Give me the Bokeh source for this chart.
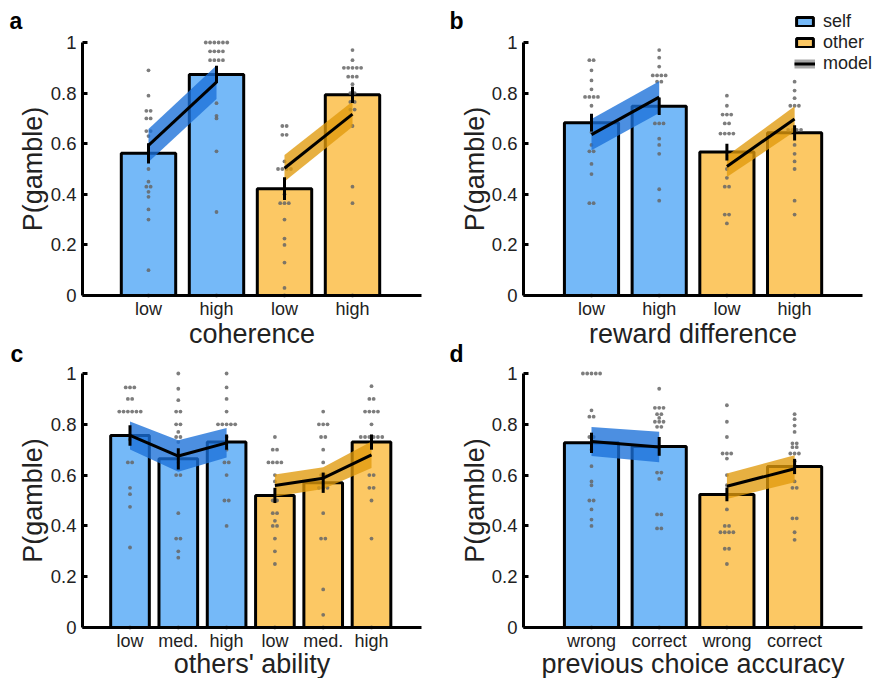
from bokeh.plotting import figure
from bokeh.models import Range1d, FixedTicker, Label, Legend, LegendItem, LinearAxis
from bokeh.embed import file_html
from bokeh.resources import INLINE

FONT = "Liberation Sans"
TEXT = "#222222"
SELF_FILL = "#75b9f8"
OTHER_FILL = "#fcc864"
SELF_BAND = "#1a6fd8"
OTHER_BAND = "#e09a0c"
DOT = "#666666"

# ---------------- data ----------------
y_ticks = [0, 0.2, 0.4, 0.6, 0.8, 1]
y_tick_labels = ["0", "0.2", "0.4", "0.6", "0.8", "1"]
y_label = "P(gamble)"
legend_labels = ["self", "other", "model"]
panel_letters = ["a", "b", "c", "d"]

# panel a : coherence
a_xlabel = "coherence"
a_ticks = ["low", "high", "low", "high"]
a_self_mean = [0.562, 0.874]
a_self_err = [0.040, 0.034]
a_self_model = [0.593, 0.843]
a_self_ci = [0.065, 0.066]
a_other_mean = [0.422, 0.793]
a_other_err = [0.045, 0.032]
a_other_model = [0.503, 0.717]
a_other_ci = [0.052, 0.050]
a_self_pts = [
    [0.89, 0.79, 0.73, 0.73, 0.70, 0.70, 0.65, 0.65, 0.63, 0.50, 0.45, 0.43, 0.43, 0.41, 0.39, 0.34, 0.30, 0.10, 0.0],
    [1.0, 1.0, 1.0, 1.0, 1.0, 1.0, 0.965, 0.965, 0.965, 0.965, 0.93, 0.93, 0.93, 0.93, 0.76, 0.71, 0.70, 0.57, 0.33, 0.0],
]
a_other_pts = [
    [0.67, 0.67, 0.635, 0.635, 0.53, 0.50, 0.50, 0.50, 0.50, 0.40, 0.365, 0.365, 0.365, 0.30, 0.225, 0.20, 0.13, 0.03, 0.0],
    [0.97, 0.93, 0.90, 0.90, 0.90, 0.90, 0.90, 0.865, 0.865, 0.865, 0.835, 0.80, 0.80, 0.765, 0.765, 0.735, 0.735, 0.67, 0.43, 0.365, 0.0],
]

# panel b : reward difference
b_xlabel = "reward difference"
b_ticks = ["low", "high", "low", "high"]
b_self_mean = [0.683, 0.748]
b_self_err = [0.035, 0.035]
b_self_model = [0.636, 0.784]
b_self_ci = [0.062, 0.063]
b_other_mean = [0.567, 0.643]
b_other_err = [0.033, 0.030]
b_other_model = [0.510, 0.698]
b_other_ci = [0.042, 0.050]
b_self_pts = [
    [0.93, 0.93, 0.89, 0.85, 0.815, 0.785, 0.785, 0.785, 0.785, 0.75, 0.645, 0.595, 0.57, 0.57, 0.52, 0.48, 0.365, 0.365, 0.0],
    [0.97, 0.94, 0.905, 0.87, 0.87, 0.87, 0.87, 0.845, 0.845, 0.68, 0.68, 0.68, 0.62, 0.595, 0.56, 0.42, 0.375, 0.0],
]
b_other_pts = [
    [0.79, 0.75, 0.715, 0.715, 0.715, 0.68, 0.68, 0.64, 0.64, 0.64, 0.64, 0.50, 0.465, 0.43, 0.43, 0.32, 0.32, 0.285, 0.0],
    [0.845, 0.81, 0.78, 0.75, 0.75, 0.75, 0.655, 0.655, 0.655, 0.655, 0.595, 0.56, 0.53, 0.50, 0.375, 0.32, 0.0],
]

# panel c : others' ability
c_xlabel = "others' ability"
c_ticks = ["low", "med.", "high", "low", "med.", "high"]
c_self_mean = [0.756, 0.664, 0.730]
c_self_err = [0.040, 0.042, 0.030]
c_self_model = [0.756, 0.675, 0.727]
c_self_ci = [0.055, 0.062, 0.058]
c_other_mean = [0.520, 0.570, 0.730]
c_other_err = [0.030, 0.040, 0.030]
c_other_model = [0.559, 0.588, 0.680]
c_other_ci = [0.043, 0.043, 0.052]
c_self_pts = [
    [0.945, 0.945, 0.945, 0.90, 0.90, 0.85, 0.85, 0.85, 0.85, 0.85, 0.85, 0.74, 0.65, 0.65, 0.55, 0.525, 0.475, 0.315, 0.0],
    [1.0, 0.94, 0.895, 0.85, 0.85, 0.80, 0.80, 0.77, 0.75, 0.75, 0.73, 0.65, 0.60, 0.60, 0.45, 0.35, 0.35, 0.30, 0.275, 0.0],
    [1.0, 0.945, 0.90, 0.85, 0.80, 0.80, 0.80, 0.80, 0.80, 0.75, 0.70, 0.65, 0.65, 0.60, 0.50, 0.50, 0.40, 0.0],
]
c_other_pts = [
    [0.75, 0.70, 0.70, 0.65, 0.65, 0.65, 0.65, 0.60, 0.575, 0.50, 0.50, 0.45, 0.45, 0.42, 0.40, 0.40, 0.35, 0.30, 0.25, 0.0],
    [0.85, 0.80, 0.80, 0.80, 0.75, 0.75, 0.70, 0.65, 0.60, 0.60, 0.55, 0.55, 0.55, 0.45, 0.35, 0.35, 0.15, 0.05, 0.0],
    [0.95, 0.90, 0.90, 0.85, 0.85, 0.85, 0.85, 0.80, 0.75, 0.75, 0.75, 0.75, 0.75, 0.75, 0.60, 0.60, 0.55, 0.55, 0.50, 0.35, 0.0],
]

# panel d : previous choice accuracy
d_xlabel = "previous choice accuracy"
d_ticks = ["wrong", "correct", "wrong", "correct"]
d_self_mean = [0.727, 0.713]
d_self_err = [0.040, 0.037]
d_self_model = [0.732, 0.711]
d_self_ci = [0.057, 0.060]
d_other_mean = [0.524, 0.634]
d_other_err = [0.027, 0.030]
d_other_model = [0.556, 0.625]
d_other_ci = [0.050, 0.053]
d_self_pts = [
    [1.0, 1.0, 1.0, 1.0, 1.0, 0.855, 0.83, 0.83, 0.75, 0.75, 0.70, 0.635, 0.575, 0.56, 0.50, 0.50, 0.465, 0.425, 0.40, 0.0],
    [0.94, 0.865, 0.865, 0.865, 0.84, 0.84, 0.825, 0.81, 0.81, 0.81, 0.79, 0.79, 0.61, 0.61, 0.585, 0.445, 0.445, 0.39, 0.39, 0.0],
]
d_other_pts = [
    [0.875, 0.81, 0.75, 0.685, 0.685, 0.685, 0.665, 0.60, 0.56, 0.465, 0.40, 0.40, 0.375, 0.375, 0.375, 0.375, 0.31, 0.31, 0.25, 0.0],
    [0.84, 0.82, 0.795, 0.77, 0.725, 0.725, 0.71, 0.71, 0.685, 0.685, 0.685, 0.655, 0.575, 0.55, 0.55, 0.43, 0.43, 0.375, 0.345, 0.0],
]

# ---------------- layout (page pixels) ----------------
W, H = 874, 678


def swarm(center, values, step):
    counts = {}
    for v in values:
        counts[v] = counts.get(v, 0) + 1
    xs, ys = [], []
    for v, n in counts.items():
        for i in range(n):
            xs.append(center + (i - (n - 1) / 2) * step)
            ys.append(v)
    return xs, ys


class Geom:
    """Maps page pixels to one panel's data space (frame covers the whole page)."""
    def __init__(self, name, axis_px, first_px, step_px, end_px, y0_px, y1_px):
        self.xname = "x_" + name
        self.yname = "y_" + name
        self.step = step_px
        self.x_start = 1 - first_px / step_px
        self.ppu_y = y0_px - y1_px
        self.y0_px, self.y1_px = y0_px, y1_px
        self.axis_px, self.end_px = axis_px, end_px

    def x(self, px):
        return self.x_start + px / self.step

    def y(self, py):
        return (self.y0_px - py) / self.ppu_y

    def ranges(self):
        return Range1d(self.x(0), self.x(W)), Range1d(self.y(H), self.y(0))


geoms = [
    Geom("a", 82, 148, 68.0, 421, 295, 42),
    Geom("b", 523, 591, 67.7, 862, 295, 42),
    Geom("c", 82, 129.5, 48.3, 421, 627, 373),
    Geom("d", 523, 591, 67.7, 862, 627, 373),
]

p = figure(width=W, height=H, output_backend="svg", toolbar_location=None,
           x_range=Range1d(0, W), y_range=Range1d(0, H),
           x_axis_location=None, y_axis_location=None,
           min_border_left=0, min_border_right=0, min_border_top=0, min_border_bottom=0)
p.outline_line_color = None
p.background_fill_color = "white"
p.border_fill_color = "white"
p.grid.visible = False
for g in geoms:
    xr, yr = g.ranges()
    p.extra_x_ranges[g.xname] = xr
    p.extra_y_ranges[g.yname] = yr


def page_label(text, px, py, size, bold=False, angle=0, align="center", color=TEXT):
    p.add_layout(Label(x=px, y=H - py, text=text, angle=angle, angle_units="deg",
                       text_font=FONT, text_font_size=size, text_color=color,
                       text_font_style="bold" if bold else "normal",
                       text_align=align, text_baseline="middle"))


def panel(g, xlabel, ticks, groups, letter, letter_px, ylabel_px, xlabel_py):
    rn = dict(x_range_name=g.xname, y_range_name=g.yname)
    dot_step = 4.3 / g.step
    renderers = {}
    start = 1
    for key, (mean, err, model, ci, pts, fill, band) in groups.items():
        n = len(mean)
        xs = list(range(start, start + n))
        start += n
        renderers[key] = p.vbar(x=xs, top=mean, bottom=0, width=0.8, fill_color=fill,
                                line_color="black", line_width=3, **rn)
        dx, dy = [], []
        for xc, vals in zip(xs, pts):
            sx, sy = swarm(xc, vals, dot_step)
            dx += sx
            dy += sy
        p.scatter(dx, dy, size=3.8, fill_color=DOT, line_color=None, fill_alpha=0.85, **rn)
        p.varea(x=xs, y1=[m - c for m, c in zip(model, ci)], y2=[m + c for m, c in zip(model, ci)],
                fill_color=band, fill_alpha=0.78, **rn)
        p.segment(x0=xs, x1=xs, y0=[m - e for m, e in zip(mean, err)], y1=[m + e for m, e in zip(mean, err)],
                  line_color="black", line_width=3, **rn)
        p.line(xs, model, line_color="black", line_width=3, **rn)

    xa = LinearAxis(fixed_location=0, bounds=(g.x(g.axis_px), g.x(g.end_px)),
                    ticker=FixedTicker(ticks=list(range(1, len(ticks) + 1))),
                    major_label_overrides={i + 1: t for i, t in enumerate(ticks)}, **rn)
    xa.axis_line_width = 3
    xa.axis_line_color = "black"
    xa.major_tick_in = 0
    xa.major_tick_out = 0
    xa.major_tick_line_color = None
    xa.minor_tick_line_color = None
    xa.major_label_text_font = FONT
    xa.major_label_text_font_size = "18px"
    xa.major_label_text_color = TEXT
    xa.major_label_standoff = 3
    p.add_layout(xa, "below")

    ya = LinearAxis(fixed_location=g.x(g.axis_px), bounds=(0, 1), ticker=FixedTicker(ticks=y_ticks),
                    major_label_overrides={t: l for t, l in zip(y_ticks, y_tick_labels)}, **rn)
    ya.axis_line_width = 3
    ya.axis_line_color = "black"
    ya.major_tick_in = 5
    ya.major_tick_out = 0
    ya.major_tick_line_width = 3
    ya.minor_tick_line_color = None
    ya.major_label_text_font = FONT
    ya.major_label_text_font_size = "18.5px"
    ya.major_label_text_color = TEXT
    ya.major_label_standoff = 6
    p.add_layout(ya, "left")

    page_label(y_label, ylabel_px, (g.y0_px + g.y1_px) / 2, "27px", angle=90)
    page_label(xlabel, (g.axis_px + g.end_px) / 2, xlabel_py, "27px")
    page_label(letter, letter_px[0], letter_px[1], "23px", bold=True, align="left", color="black")
    return renderers


def groups_for(sm, se, smod, sci, spts, om, oe, omod, oci, opts):
    return {
        "self": (sm, se, smod, sci, spts, SELF_FILL, SELF_BAND),
        "other": (om, oe, omod, oci, opts, OTHER_FILL, OTHER_BAND),
    }


panel(geoms[0], a_xlabel, a_ticks,
      groups_for(a_self_mean, a_self_err, a_self_model, a_self_ci, a_self_pts,
                 a_other_mean, a_other_err, a_other_model, a_other_ci, a_other_pts),
      panel_letters[0], (9, 20), 32, 333)
rb = panel(geoms[1], b_xlabel, b_ticks,
           groups_for(b_self_mean, b_self_err, b_self_model, b_self_ci, b_self_pts,
                      b_other_mean, b_other_err, b_other_model, b_other_ci, b_other_pts),
           panel_letters[1], (449, 20), 474, 333)
panel(geoms[2], c_xlabel, c_ticks,
      groups_for(c_self_mean, c_self_err, c_self_model, c_self_ci, c_self_pts,
                 c_other_mean, c_other_err, c_other_model, c_other_ci, c_other_pts),
      panel_letters[2], (10, 353), 32, 663)
panel(geoms[3], d_xlabel, d_ticks,
      groups_for(d_self_mean, d_self_err, d_self_model, d_self_ci, d_self_pts,
                 d_other_mean, d_other_err, d_other_model, d_other_ci, d_other_pts),
      panel_letters[3], (449, 353), 474, 663)

# legend (panel b); the "model" key uses empty placeholder renderers
nan = float("nan")
band_dummy = p.line(x=[nan], y=[nan], line_color="#9a9a9a", line_width=9, line_alpha=0.85)
line_dummy = p.line(x=[nan], y=[nan], line_color="black", line_width=3)
legend = Legend(items=[
    LegendItem(label=legend_labels[0], renderers=[rb["self"]]),
    LegendItem(label=legend_labels[1], renderers=[rb["other"]]),
    LegendItem(label=legend_labels[2], renderers=[band_dummy, line_dummy]),
], location=(794, H - 74))
legend.glyph_width = 21
legend.glyph_height = 11
legend.label_standoff = 8
legend.spacing = 0
legend.padding = 0
legend.margin = 0
legend.label_height = 20
legend.label_text_font = FONT
legend.label_text_font_size = "18px"
legend.label_text_color = TEXT
legend.label_text_baseline = "middle"
legend.border_line_color = None
legend.background_fill_alpha = 0
p.add_layout(legend)

open("out.html", "w").write(file_html(p, INLINE))
